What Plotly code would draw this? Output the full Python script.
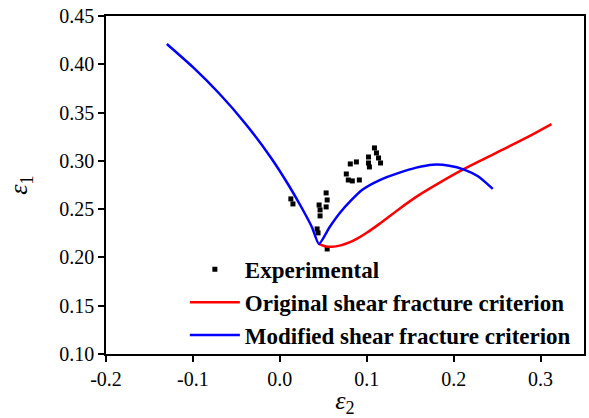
import plotly.graph_objects as go

# Experimental points
exp_x = [0.0127, 0.0151, 0.0452, 0.0463, 0.0463, 0.0533, 0.0545, 0.0533, 0.0429, 0.0440, 0.0545,
         0.0765, 0.0788, 0.0834, 0.0915, 0.0811, 0.0881, 0.1020, 0.1020, 0.1031, 0.1089, 0.1112, 0.1136, 0.1159]
exp_y = [0.2606, 0.2554, 0.2543, 0.2492, 0.2430, 0.2668, 0.2595, 0.2523, 0.2295, 0.2254, 0.2088,
         0.2864, 0.2802, 0.2792, 0.2802, 0.2968, 0.2989, 0.3040, 0.2978, 0.2937, 0.3134, 0.3082, 0.3030, 0.2978]

# Original shear fracture criterion
orig_x = [0.045, 0.052, 0.060, 0.070, 0.080, 0.090, 0.100, 0.115, 0.137, 0.160, 0.185,
          0.210, 0.235, 0.255, 0.285, 0.3126]
orig_y = [0.214, 0.2115, 0.211, 0.2125, 0.2155, 0.220, 0.2255, 0.235, 0.250, 0.2645, 0.278,
          0.2906, 0.302, 0.311, 0.3245, 0.338]

# Modified shear fracture criterion
mod_x = [-0.130, -0.100, -0.070, -0.040, -0.010, 0.010, 0.025, 0.037, 0.045,
         0.057, 0.069, 0.082, 0.095, 0.115, 0.137, 0.157, 0.176, 0.195, 0.212, 0.228, 0.245]
mod_y = [0.421, 0.397, 0.370, 0.339, 0.303, 0.275, 0.2517, 0.2313, 0.214,
         0.231, 0.246, 0.259, 0.270, 0.280, 0.2875, 0.293, 0.296, 0.295, 0.291, 0.284, 0.271]

FONT = "Liberation Serif, Times New Roman, serif"

fig = go.Figure()
fig.add_trace(go.Scatter(x=exp_x, y=exp_y, mode="markers", name="Experimental",
                         marker=dict(symbol="square", size=5, color="black")))
fig.add_trace(go.Scatter(x=orig_x, y=orig_y, mode="lines", name="Original shear fracture criterion",
                         line=dict(color="#ff0000", width=2.5, shape="spline", smoothing=0.6)))
fig.add_trace(go.Scatter(x=mod_x, y=mod_y, mode="lines", name="Modified shear fracture criterion",
                         line=dict(color="#0000ff", width=2.5, shape="spline", smoothing=0.6)))

axis_common = dict(showline=True, linecolor="black", linewidth=1.5, mirror=True,
                   ticks="outside", ticklen=6, tickwidth=1.5, tickcolor="black",
                   showgrid=False, zeroline=False,
                   tickfont=dict(family=FONT, size=20, color="black"))

fig.update_layout(
    width=589, height=418,
    margin=dict(l=106, r=3, t=16, b=64),
    paper_bgcolor="white", plot_bgcolor="white",
    font=dict(family=FONT, color="black"),
    showlegend=True,
    legend=dict(x=0.165, y=0.314, xanchor="left", yanchor="top",
                bgcolor="rgba(0,0,0,0)", borderwidth=0,
                font=dict(family=FONT, size=23, color="black", weight="bold"),
                tracegroupgap=0, itemwidth=50),
    xaxis=dict(range=[-0.2, 0.35], tickvals=[-0.2, -0.1, 0.0, 0.1, 0.2, 0.3],
               ticktext=["-0.2", "-0.1", "0.0", "0.1", "0.2", "0.3"],
               title=dict(text="<i>ε</i><sub>2</sub>", font=dict(family=FONT, size=26, color="black"), standoff=6),
               **axis_common),
    yaxis=dict(range=[0.10, 0.45], tickvals=[0.10, 0.15, 0.20, 0.25, 0.30, 0.35, 0.40, 0.45],
               ticktext=["0.10", "0.15", "0.20", "0.25", "0.30", "0.35", "0.40", "0.45"],
               title=dict(text="<i>ε</i><sub>1</sub>", font=dict(family=FONT, size=26, color="black"), standoff=24),
               **axis_common),
)

fig.write_html("out.html")
